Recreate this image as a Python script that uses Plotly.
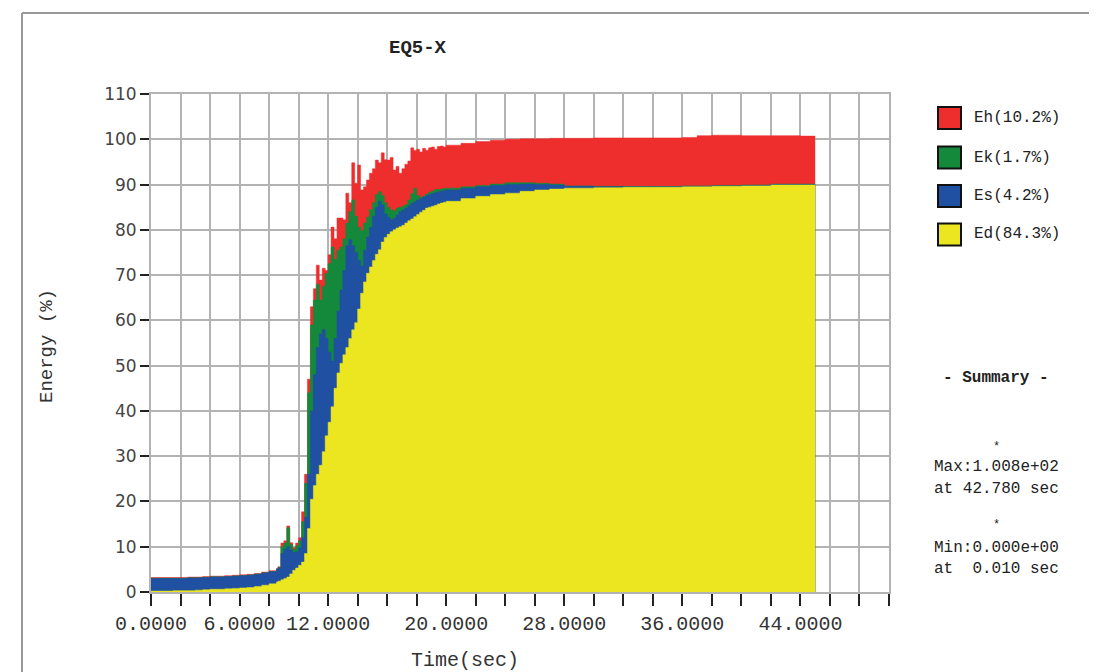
import plotly.graph_objects as go

# ---------------- data ----------------
time = [0, 0.5, 1, 1.5, 2, 2.5, 3, 3.5, 4, 4.5, 5, 5.5, 6, 6.5, 7, 7.5, 8, 8.5,
        8.6, 8.8, 9.0, 9.2, 9.4, 9.6, 9.8, 10.0, 10.2, 10.4, 10.6, 10.8,
        11.0, 11.2, 11.4, 11.6, 11.8, 12.0, 12.2, 12.4, 12.6, 12.8,
        13.0, 13.2, 13.4, 13.6, 13.8, 14.0, 14.2, 14.4, 14.6, 14.8,
        15.0, 15.2, 15.4, 15.6, 15.8, 16.0, 16.2, 16.4, 16.6, 16.8,
        17.0, 17.2, 17.4, 17.6, 17.8, 18.0, 18.2, 18.4, 18.6, 18.8,
        19.0, 19.2, 19.4, 19.6, 19.8, 20.0,
        21, 22, 23, 24, 25, 26, 27, 28, 30, 32, 34, 36, 37, 38, 40, 42, 42.78, 44, 45]

# cumulative energy levels (%)
ed = [0.2, 0.2, 0.2, 0.3, 0.3, 0.3, 0.4, 0.5, 0.6, 0.6, 0.7, 0.8, 0.9, 1.0, 1.2, 1.5, 1.8, 2.2,
      2.4, 2.7, 3.0, 3.3, 4.0, 4.8, 5.3, 5.9, 6.6, 8.5, 14.0, 20.5,
      23.5, 26.0, 28.0, 31.0, 34.5, 37.5, 40.9, 45.0, 48.4, 50.5,
      52.4, 54.0, 56.0, 57.9, 59.5, 62.5, 66.0, 68.5, 70.4, 71.8,
      73.2, 74.6, 75.6, 77.3, 78.3, 79.0, 79.6, 80.0, 80.4, 80.7,
      81.0, 81.5, 82.0, 82.4, 82.9, 83.4, 83.9, 84.3, 84.8, 85.0,
      85.2, 85.4, 85.7, 85.9, 86.1, 86.3,
      86.9, 87.4, 87.8, 88.1, 88.5, 88.8, 89.0, 89.2, 89.3, 89.4, 89.4, 89.5, 89.5, 89.6, 89.7, 89.9, 89.9, 89.9, 89.9]

ed_es = [3.0, 3.0, 3.0, 3.0, 3.0, 3.1, 3.1, 3.2, 3.3, 3.3, 3.4, 3.5, 3.6, 3.7, 3.9, 4.2, 4.5, 5.0,
         5.3, 8.5, 9.5, 10.0, 9.3, 8.7, 8.9, 9.8, 12.0, 16.5, 26.0, 40.0,
         48.0, 54.0, 57.0, 58.0, 56.0, 53.0, 51.0, 56.0, 62.0, 66.7,
         71.0, 76.5, 77.8, 76.5, 75.0, 73.3, 72.0, 75.5, 78.4, 80.5,
         83.0, 85.0, 86.3, 85.5, 83.5, 82.8, 82.2, 82.5, 83.3, 84.0,
         84.4, 84.8, 85.3, 85.8, 86.2, 86.6, 86.9, 87.2, 87.5, 87.8,
         88.0, 88.2, 88.4, 88.5, 88.7, 88.8,
         89.2, 89.5, 89.8, 90.0, 90.1, 90.0, 89.9, 89.6, 89.5, 89.5, 89.5, 89.6, 89.6, 89.7, 89.8, 90.0, 90.0, 90.0, 90.0]

ed_es_ek = [3.05, 3.05, 3.05, 3.05, 3.05, 3.15, 3.15, 3.25, 3.35, 3.35, 3.45, 3.55, 3.65, 3.75, 3.95, 4.25, 4.55, 5.05,
            5.4, 10.0, 10.8, 14.2, 10.5, 9.4, 10.2, 11.3, 15.5, 24.0, 44.0, 59.0,
            64.5, 68.0, 64.5, 67.5, 70.4, 72.5, 76.2, 73.5, 75.5, 76.2,
            78.0, 81.5, 84.0, 86.6, 83.0, 80.6, 79.8, 81.5, 82.8, 84.5,
            86.0, 87.8, 88.4, 87.6, 86.0, 85.0, 84.4, 84.2, 84.8, 85.0,
            85.2, 85.6, 86.6, 88.0, 89.2, 87.6, 87.2, 87.4, 87.9, 88.3,
            88.6, 88.9, 88.9, 89.0, 89.1, 89.2,
            89.5, 89.8, 90.1, 90.4, 90.4, 90.3, 90.1, 89.7, 89.6, 89.6, 89.6, 89.7, 89.7, 89.8, 89.9, 90.1, 90.1, 90.1, 90.1]

total = [3.2, 3.2, 3.2, 3.2, 3.2, 3.3, 3.3, 3.4, 3.5, 3.5, 3.6, 3.7, 3.8, 3.9, 4.1, 4.4, 4.7, 5.2,
         5.6, 10.8, 11.3, 14.6, 10.9, 9.8, 10.8, 12.0, 17.7, 26.0, 47.0, 63.0,
         67.0, 72.2, 68.9, 71.5, 71.0, 74.5, 80.6, 78.0, 82.6, 82.6,
         82.2, 88.1, 86.0, 94.8, 90.3, 94.3, 88.8, 89.5, 91.0, 92.5,
         93.5, 95.4, 94.8, 97.0, 95.5, 95.4, 96.0, 93.2, 94.0, 92.5,
         93.5, 94.5, 95.2, 98.1, 97.5, 97.8, 97.2, 98.0, 97.6, 98.1,
         98.3, 97.8, 98.4, 98.5, 98.3, 98.7,
         99.1, 99.5, 99.8, 100.0, 100.1, 100.1, 100.2, 100.2, 100.3, 100.3, 100.3, 100.4, 100.8, 100.9, 100.8, 100.8, 100.8, 100.7, 100.7]

legend_labels = ["Eh(10.2%)", "Ek(1.7%)", "Es(4.2%)", "Ed(84.3%)"]
x_tick_vals = [0, 2, 4, 6, 8, 10, 12, 14, 16, 18, 20, 22, 24, 26, 28, 30, 32, 34, 36, 38, 40, 42, 44, 46, 48, 50]
x_tick_text = ["0.0000", "", "", "6.0000", "", "", "12.0000", "", "", "", "20.0000", "", "", "", "28.0000",
               "", "", "", "36.0000", "", "", "", "44.0000", "", "", ""]
y_tick_vals = [0, 10, 20, 30, 40, 50, 60, 70, 80, 90, 100, 110]
summary_lines = ["- Summary -", "*", "Max:1.008e+02", "at 42.780 sec", "*", "Min:0.000e+00", "at\u00a0 0.010 sec"]

# ---------------- styling ----------------
RED, GREEN, BLUE, YELLOW = "#ee2d2d", "#14893c", "#1f50a2", "#ebe61f"
MONO = "Liberation Mono"
OFF = 8                      # page body margin of the browser
W, H = 1097 - OFF, 672 - OFF
L, R, T, B = 151, 889, 94, 592   # plot area in screen pixels


def px(x):
    return (x - L) / (R - L)


def py(y):
    return (B - y) / (B - T)


fig = go.Figure()
for series, col in [(total, RED), (ed_es_ek, GREEN), (ed_es, BLUE), (ed, YELLOW)]:
    fig.add_trace(go.Scatter(x=time, y=series, mode="lines", fill="tozeroy",
                             line=dict(color=col, width=0.5, shape="hv"),
                             fillcolor=col, showlegend=False, hoverinfo="skip"))

GRID = "#b3b3b3"
fig.update_layout(
    width=W, height=H,
    margin=dict(l=L - OFF, r=W - (R - OFF), t=T - OFF, b=H - (B - OFF), pad=0),
    plot_bgcolor="white", paper_bgcolor="white",
    xaxis=dict(range=[0, 50], tickmode="array", tickvals=x_tick_vals, ticktext=x_tick_text,
               showgrid=True, gridcolor=GRID, gridwidth=2, zeroline=False,
               showline=True, mirror=True, linecolor=GRID, linewidth=2,
               ticks="outside", ticklen=12, tickwidth=2, tickcolor="#222",
               tickfont=dict(family=MONO, size=20, color="#333"), layer="below traces"),
    yaxis=dict(range=[0, 110], tickmode="array", tickvals=y_tick_vals,
               showgrid=True, gridcolor=GRID, gridwidth=2, zeroline=False,
               showline=True, mirror=True, linecolor=GRID, linewidth=2,
               ticks="outside", ticklen=9, tickwidth=2, tickcolor="#222",
               tickfont=dict(family="DejaVu Sans", size=17, color="#444"), layer="below traces"),
)

shapes = []
# outer frame (top and left edges)
shapes.append(dict(type="line", xref="paper", yref="paper", x0=px(22), x1=px(1097), y0=py(13), y1=py(13),
                   line=dict(color="#999", width=2)))
shapes.append(dict(type="line", xref="paper", yref="paper", x0=px(22), x1=px(22), y0=py(13), y1=py(680),
                   line=dict(color="#999", width=2)))

annotations = [
    dict(text="<b>EQ5-X</b>", x=px(418), y=py(48), xref="paper", yref="paper", showarrow=False,
         font=dict(family=MONO, size=19, color="#222"), xanchor="center", yanchor="middle"),
    dict(text="Time(sec)", x=px(465), y=py(660), xref="paper", yref="paper", showarrow=False,
         font=dict(family=MONO, size=20, color="#333"), xanchor="center", yanchor="middle"),
    dict(text="Energy (%)", x=px(47), y=py(346), xref="paper", yref="paper", showarrow=False, textangle=-90,
         font=dict(family=MONO, size=19, color="#333"), xanchor="center", yanchor="middle"),
]

leg_cols = [RED, GREEN, BLUE, YELLOW]
leg_centers = [118, 157.5, 196, 234.5]
for lab, col, cy in zip(legend_labels, leg_cols, leg_centers):
    shapes.append(dict(type="rect", xref="paper", yref="paper", x0=px(938), x1=px(961),
                       y0=py(cy + 11), y1=py(cy - 11), fillcolor=col, line=dict(color="#111", width=2)))
    annotations.append(dict(text=lab, x=px(972), y=py(cy), xref="paper", yref="paper", showarrow=False,
                            font=dict(family=MONO, size=16, color="#222"), xanchor="left", yanchor="middle"))

sum_y = [378, 447, 467, 489, 525, 548, 569]
for i, (txt, yy) in enumerate(zip(summary_lines, sum_y)):
    t = f"<b>{txt}</b>" if i == 0 else txt
    size = 12 if txt == "*" else 16
    annotations.append(dict(text=t, x=px(996), y=py(yy), xref="paper", yref="paper", showarrow=False,
                            font=dict(family=MONO, size=size, color="#222"), xanchor="center", yanchor="middle"))

fig.update_layout(shapes=shapes, annotations=annotations)
fig.write_html("out.html")
